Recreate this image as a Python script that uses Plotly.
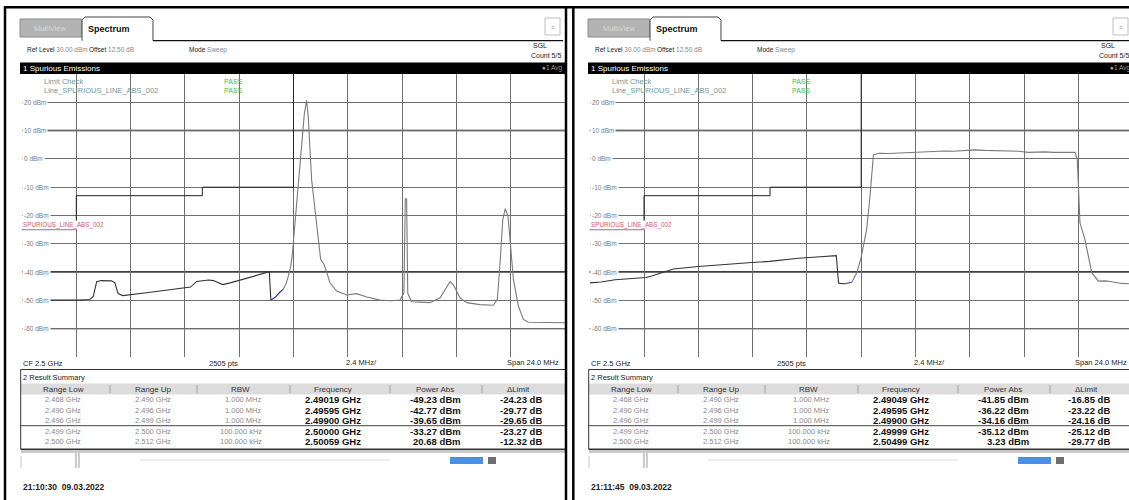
import plotly.graph_objects as go

W, H = 1129, 500
DX = 568  # horizontal offset of the second screen

# ---------------- data ----------------
left_freq = [2.48800, 2.48850, 2.48900, 2.48950, 2.49000, 2.49050, 2.49100, 2.49115, 2.49130, 2.49150,
             2.49175, 2.49195, 2.49210, 2.49225, 2.49245, 2.49300, 2.49350, 2.49410, 2.49470, 2.49520,
             2.49545, 2.49572, 2.49600, 2.49625, 2.49646, 2.49668, 2.49687, 2.49720, 2.49760, 2.49800,
             2.49840, 2.49870, 2.49893, 2.49900, 2.49920, 2.49937, 2.49955, 2.49968, 2.49977, 2.49988,
             2.49995, 2.50007, 2.50021, 2.50036, 2.50048, 2.50058, 2.50065, 2.50080, 2.50095, 2.50110,
             2.50120, 2.50135, 2.50147, 2.50161, 2.50191, 2.50235, 2.50279, 2.50324, 2.50382, 2.50430,
             2.50471, 2.50488, 2.50494, 2.50500, 2.50505, 2.50522, 2.50560, 2.50603, 2.50648, 2.50677,
             2.50692, 2.50706, 2.50736, 2.50766, 2.50824, 2.50883, 2.50901, 2.50913, 2.50925, 2.50936,
             2.50948, 2.50957, 2.50972, 2.50994, 2.51016, 2.51038, 2.51100, 2.51150, 2.51200]
left_power = [-50.0, -50.1, -49.9, -50.0, -49.9, -49.9, -49.7, -48.6, -43.4, -43.0,
              -43.1, -43.1, -43.7, -47.6, -48.3, -47.9, -47.3, -46.7, -46.1, -45.6,
              -45.3, -43.3, -42.9, -42.8, -43.0, -43.9, -44.4, -43.8, -42.9, -42.0,
              -41.2, -40.5, -39.9, -49.9, -48.8, -47.3, -46.0, -44.0, -41.4, -38.0,
              -33.5, -22.6, -7.3, 4.5, 16.0, 20.7, 15.0, -7.3, -19.1, -28.5,
              -35.5, -37.3, -40.2, -43.8, -46.7, -48.1, -47.6, -48.8, -49.9, -50.1,
              -49.9, -47.3, -14.0, -14.3, -47.5, -50.5, -50.6, -50.8, -49.1, -45.0,
              -43.4, -44.4, -49.1, -50.8, -51.5, -51.7, -49.7, -36.7, -21.4, -17.6,
              -20.2, -28.5, -42.6, -52.0, -56.7, -57.7, -57.8, -57.7, -57.9]

right_freq = [2.48800, 2.48850, 2.48912, 2.48980, 2.49049, 2.49074, 2.49133, 2.49170, 2.49280, 2.49400,
              2.49516, 2.49595, 2.49722, 2.49820, 2.49890, 2.49900, 2.49930, 2.49958, 2.49980, 2.49999,
              2.50024, 2.50039, 2.50054, 2.50080, 2.50120, 2.50170, 2.50223, 2.50260, 2.50297, 2.50335,
              2.50370, 2.50410, 2.50444, 2.50470, 2.50499, 2.50547, 2.50590, 2.50621, 2.50660, 2.50694,
              2.50739, 2.50780, 2.50812, 2.50850, 2.50886, 2.50920, 2.50945, 2.50955, 2.50967, 2.50989,
              2.51019, 2.51048, 2.51080, 2.51107, 2.51151, 2.51200]
right_power = [-43.8, -43.5, -42.7, -42.3, -41.9, -41.4, -39.7, -38.9, -38.0, -37.2,
               -36.6, -36.2, -35.1, -34.6, -34.2, -44.0, -44.1, -43.6, -40.3, -35.1,
               -25.0, -13.2, 1.5, 2.0, 1.9, 2.1, 2.3, 2.4, 2.6, 2.5,
               2.8, 2.7, 2.9, 3.0, 3.2, 3.0, 2.9, 2.9, 2.8, 2.7,
               2.3, 2.5, 2.5, 2.3, 2.3, 2.4, 2.3, -0.2, -22.6, -28.5,
               -40.2, -43.2, -43.1, -43.4, -44.0, -44.2]

limit_freq = [2.48800, 2.49040, 2.49040, 2.49597, 2.49597, 2.50000, 2.50000, 2.51200]
limit_power = [-25, -25, -13, -13, -10, -10, 33, 33]

level_values = [20, 10, 0, -10, -20, -30, -40, -50, -60]
level_labels = ["20 dBm", "10 dBm", "0 dBm", "-10 dBm", "-20 dBm", "-30 dBm", "-40 dBm", "-50 dBm", "-60 dBm"]

range_low = ["2.468 GHz", "2.490 GHz", "2.496 GHz", "2.499 GHz", "2.500 GHz"]
range_up = ["2.490 GHz", "2.496 GHz", "2.499 GHz", "2.500 GHz", "2.512 GHz"]
rbw = ["1.000 MHz", "1.000 MHz", "1.000 MHz", "100.000 kHz", "100.000 kHz"]

left_peak_freq = ["2.49019 GHz", "2.49595 GHz", "2.49900 GHz", "2.50000 GHz", "2.50059 GHz"]
left_power_abs = ["-49.23 dBm", "-42.77 dBm", "-39.65 dBm", "-33.27 dBm", "20.68 dBm"]
left_delta = ["-24.23 dB", "-29.77 dB", "-29.65 dB", "-23.27 dB", "-12.32 dB"]

right_peak_freq = ["2.49049 GHz", "2.49595 GHz", "2.49900 GHz", "2.49999 GHz", "2.50499 GHz"]
right_power_abs = ["-41.85 dBm", "-36.22 dBm", "-34.16 dBm", "-35.12 dBm", "3.23 dBm"]
right_delta = ["-16.85 dB", "-23.22 dB", "-24.16 dB", "-25.12 dB", "-29.77 dB"]

timestamps = ["21:10:30  09.03.2022", "21:11:45  09.03.2022"]
col_headers = ["Range Low", "Range Up", "RBW", "Frequency", "Power Abs", "\u0394Limit"]

# ---------------- helpers ----------------
FONT = "Liberation Sans"


def px(x):
    return x / W


def py(y):
    return 1 - y / H


shapes = []
annotations = []


def T(x, y, s, size=7.5, color="#222", anchor="left", bold=False, bg=None):
    if bold:
        s = "<b>" + s + "</b>"
    d = dict(x=px(x), y=py(y), xref="paper", yref="paper", text=s, showarrow=False,
             xanchor=anchor, yanchor="middle", borderpad=0,
             font=dict(family=FONT, size=size, color=color))
    if bg:
        d["bgcolor"] = bg
    annotations.append(d)


def L(x0, y0, x1, y1, color="#000", w=1.0):
    shapes.append(dict(type="line", xref="paper", yref="paper", x0=px(x0), y0=py(y0),
                       x1=px(x1), y1=py(y1), line=dict(color=color, width=w)))


def R(x0, y0, x1, y1, fill, line=None, w=1.0):
    shapes.append(dict(type="rect", xref="paper", yref="paper", x0=px(x0), y0=py(y0),
                       x1=px(x1), y1=py(y1), fillcolor=fill,
                       line=dict(color=line if line else fill, width=w if line else 0)))


fig = go.Figure()


def add_spectrum(freqs, powers, xa, ya):
    i1 = max(i for i, f in enumerate(freqs) if f <= 2.49900 + 1e-9)
    i2 = max(i for i, f in enumerate(freqs) if f <= 2.49960)
    segs = [(0, i1, "#333333"), (i1, i2, "#2a2fb0"), (i2, len(freqs) - 1, "#7a7a7a")]
    for a, b, c in segs:
        fig.add_trace(go.Scatter(x=freqs[a:b + 1], y=powers[a:b + 1], mode="lines",
                                 line=dict(color=c, width=1.1), xaxis=xa, yaxis=ya,
                                 hoverinfo="skip"))
    fig.add_trace(go.Scatter(x=limit_freq, y=limit_power, mode="lines",
                             line=dict(color="#222", width=1), xaxis=xa, yaxis=ya,
                             hoverinfo="skip"))


def draw_panel(ox, xa, ya, freqs, powers, pfreq, ppow, pdelta, stamp):
    xdom = xa + " domain"
    # ---- tabs / header
    R(ox + 20, 19, ox + 82, 37, "#b3b3b3", "#8c8c8c", 1)
    T(ox + 51, 28, "MultiView", 7.5, "#d6d6d6", "center")
    shapes.append(dict(type="path", xref="paper", yref="paper",
                       path="M %f,%f L %f,%f L %f,%f L %f,%f L %f,%f L %f,%f" % (
                           px(ox + 82), py(40.7), px(ox + 82), py(20), px(ox + 85), py(17),
                           px(ox + 150), py(17), px(ox + 153), py(20), px(ox + 153), py(40.7)),
                       fillcolor="white", line=dict(color="#444", width=1)))
    T(ox + 87, 29, "Spectrum", 9, "#111", "left", bold=True)
    L(ox + 153, 40.7, ox + 563, 40.7, "#111", 1.2)
    R(ox + 545, 18, ox + 560, 35, "white", "#bdbdbd", 1)
    T(ox + 552.5, 27, "=", 7, "#999", "center")
    T(ox + 26, 50, "<span style='color:#222'>Ref Level</span> <span style='color:#8a8a8a'>30.00 dBm</span>", 6.5)
    T(ox + 88, 50, "<span style='color:#222'>Offset</span> <span style='color:#8a8a8a'>12.50 dB</span>", 6.5)
    T(ox + 188, 50, "<span style='color:#222'>Mode</span> <span style='color:#8a8a8a'>Sweep</span>", 6.5)
    T(ox + 532, 45.5, "SGL", 7, "#222")
    T(ox + 530, 56, "Count 5/5", 7, "#222")
    R(ox + 20, 62.5, ox + 566, 74, "#000000")
    T(ox + 22, 68.3, "1 Spurious Emissions", 8, "#ffffff")
    T(ox + 541, 68.3, "\u25cf1 Avg", 6.5, "#9a9a9a")

    # ---- plot decorations (data coordinates)
    for lv, col, wd in [(10, "#a9a9a9", 2.5), (-40, "#000000", 1.6), (-60, "#111111", 1.3)]:
        shapes.append(dict(type="line", xref=xdom, yref=ya, x0=0, x1=1, y0=lv, y1=lv,
                           layer="below", line=dict(color=col, width=wd)))
    for lv, lab in zip(level_values, level_labels):
        annotations.append(dict(x=0.0, y=lv, xref=xdom, yref=ya, text=lab, showarrow=False,
                                xanchor="left", yanchor="middle", bgcolor="white", borderpad=1,
                                font=dict(family=FONT, size=6.5, color="#7a7a7a")))
    annotations.append(dict(x=0.0, y=-23.3, xref=xdom, yref=ya, text="SPURIOUS_LINE_ABS_002",
                            showarrow=False, xanchor="left", yanchor="middle", bgcolor="white",
                            borderpad=0, font=dict(family=FONT, size=6.3, color="#cf5a68")))
    T(ox + 43, 81, "Limit Check", 7.5, "#6a9a9a")
    T(ox + 43, 91, "Line_SPURIOUS_LINE_ABS_002", 7.5, "#6a9a9a")
    T(ox + 223, 81, "PASS", 7, "#3fbf3f")
    T(ox + 223, 91, "PASS", 7, "#3fbf3f")

    add_spectrum(freqs, powers, xa, ya)

    # ---- footer of plot
    T(ox + 22, 363, "CF 2.5 GHz", 7.5, "#222")
    T(ox + 208, 363, "2505 pts", 7.5, "#222")
    T(ox + 345, 362.5, "2.4 MHz/", 7.5, "#222")
    T(ox + 560, 362.5, "Span 24.0 MHz", 7.5, "#222", "right")
    L(ox + 20.5, 369.5, ox + 566, 369.5, "#333", 1)

    # ---- result table
    T(ox + 22, 377, "2 Result Summary", 7.5, "#222")
    R(ox + 21, 383.5, ox + 566, 394.5, "#dcdcdc")
    for sx in [110, 197, 290, 390, 482]:
        L(ox + sx, 385, ox + sx, 393, "#a5a5a5", 1)
    for cx, hd in zip([63, 153, 240, 333, 435, 518], col_headers):
        T(ox + cx, 389, hd, 8, "#333", "center")
    for i in range(5):
        yy = 399.5 + 10.5 * i
        T(ox + 63, yy, range_low[i], 7.5, "#8a8a8a", "center")
        T(ox + 153, yy, range_up[i], 7.5, "#8a8a8a", "center")
        T(ox + 263, yy, rbw[i], 7.5, "#8a8a8a", "right")
        T(ox + 333, yy, pfreq[i], 9.5, "#111", "center", bold=True)
        T(ox + 461.7, yy, ppow[i], 9.5, "#111", "right", bold=True)
        T(ox + 543.3, yy, pdelta[i], 9.5, "#111", "right", bold=True)
    L(ox + 21, 425.7, ox + 566, 425.7, "#444", 1)
    L(ox + 20.7, 369.5, ox + 20.7, 449.3, "#333", 1)
    R(ox + 21, 449.8, ox + 566, 453, "#c9c9c9")
    L(ox + 20.7, 449.3, ox + 566, 449.3, "#333", 1.5)

    # ---- bottom strip
    L(ox + 76, 453, ox + 76, 468, "#9a9a9a", 1)
    L(ox + 79, 453, ox + 79, 468, "#9a9a9a", 1)
    L(ox + 21, 456, ox + 21, 468, "#c5c5c5", 1)
    L(ox + 140, 460, ox + 390, 460, "#dddddd", 1)
    R(ox + 450, 457, ox + 483, 464, "#4a8fe0")
    R(ox + 488, 457, ox + 496, 464, "#6f6f6f")
    T(ox + 22, 487, stamp, 8.5, "#222", bold=True)


draw_panel(0, "x", "y", left_freq, left_power, left_peak_freq, left_power_abs, left_delta, timestamps[0])
draw_panel(DX, "x2", "y2", right_freq, right_power, right_peak_freq, right_power_abs, right_delta,
           timestamps[1])

# ---- outer frames
L(4, 7.2, W, 7.2, "#000", 2.5)
L(5, 6, 5, H, "#000", 2.5)
L(566, 6, 566, H, "#000", 2.5)
L(573.3, 6, 573.3, H, "#000", 2.5)

axis_common = dict(showgrid=True, gridcolor="#6f6f6f", gridwidth=1, zeroline=False,
                   showticklabels=False, ticks="", showline=False, fixedrange=True)
plot_w = 565 - 22
x2_end = 2.488 + 0.024 * (W - 589.7) / plot_w

fig.update_layout(
    width=W, height=H, margin=dict(l=0, r=0, t=0, b=0),
    paper_bgcolor="white", plot_bgcolor="white", showlegend=False,
    xaxis=dict(domain=[22 / W, 565 / W], range=[2.488, 2.512], tick0=2.488, dtick=0.0024, **axis_common),
    yaxis=dict(domain=[1 - 357 / H, 1 - 74 / H], range=[-70, 30], tick0=-70, dtick=10, **axis_common),
    xaxis2=dict(domain=[589.7 / W, 1.0], range=[2.488, x2_end], tick0=2.488, dtick=0.0024,
                anchor="y2", **axis_common),
    yaxis2=dict(domain=[1 - 357 / H, 1 - 74 / H], range=[-70, 30], tick0=-70, dtick=10,
                anchor="x2", **axis_common),
    shapes=shapes, annotations=annotations,
)

fig.write_html("out.html", config={"displayModeBar": False},
               post_script="document.body.style.margin='0px';document.body.style.overflow='hidden';")
